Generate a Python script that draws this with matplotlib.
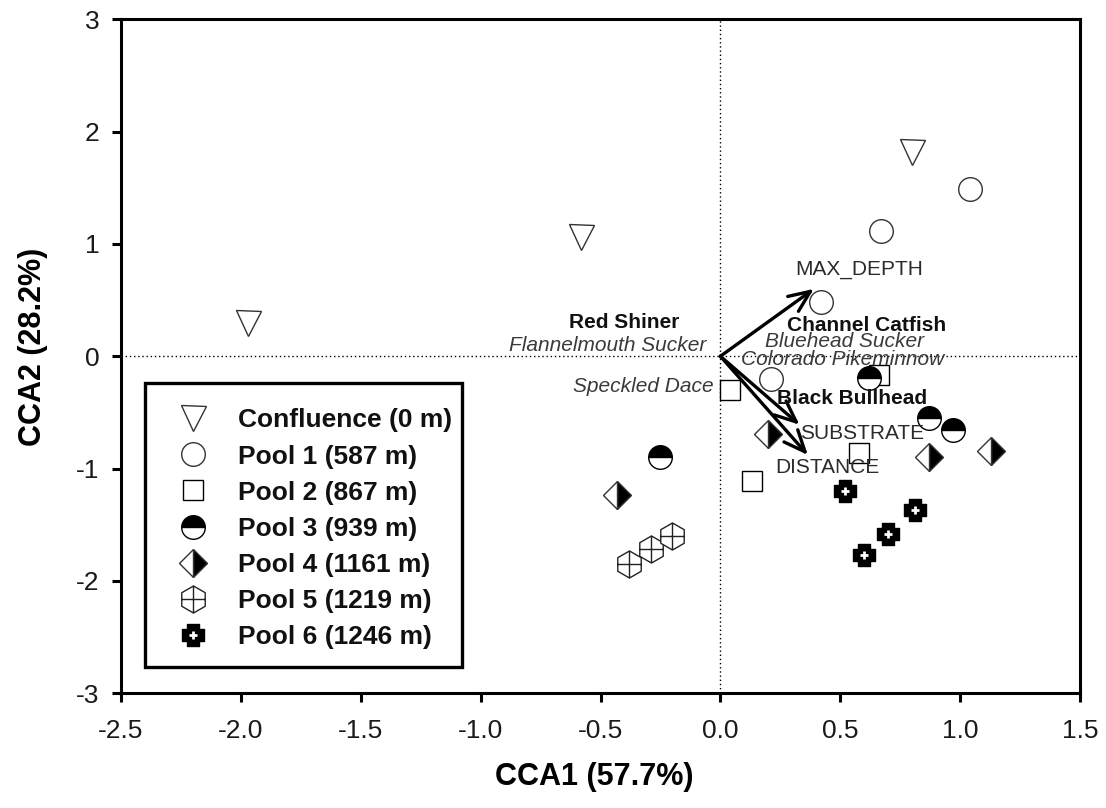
import numpy as np
import matplotlib
matplotlib.use("Agg")
from matplotlib import pyplot as plt
from matplotlib.path import Path
from matplotlib.patches import Rectangle
from matplotlib.legend_handler import HandlerTuple

plt.rcParams['font.family'] = ['Liberation Sans', 'DejaVu Sans']
plt.rcParams['axes.unicode_minus'] = False

# site scores
conf_x = [-1.97, -0.58, 0.80]
conf_y = [0.30, 1.06, 1.82]
pool1_x = [1.04, 0.67, 0.42, 0.21]
pool1_y = [1.49, 1.12, 0.48, -0.20]
pool2_x = [0.04, 0.66, 0.58, 0.13]
pool2_y = [-0.30, -0.17, -0.86, -1.11]
pool3_x = [0.62, 0.87, 0.97, -0.25]
pool3_y = [-0.19, -0.55, -0.66, -0.90]
pool4_x = [0.20, -0.43, 0.87, 1.13]
pool4_y = [-0.69, -1.24, -0.90, -0.84]
pool5_x = [-0.38, -0.29, -0.20]
pool5_y = [-1.85, -1.72, -1.60]
pool6_x = [0.52, 0.81, 0.70, 0.60]
pool6_y = [-1.20, -1.37, -1.58, -1.77]

legend_labels = ["Confluence (0 m)", "Pool 1 (587 m)", "Pool 2 (867 m)", "Pool 3 (939 m)",
                 "Pool 4 (1161 m)", "Pool 5 (1219 m)", "Pool 6 (1246 m)"]

# environmental vectors
env_names = ["MAX_DEPTH", "SUBSTRATE", "DISTANCE"]
env_x = [0.39, 0.33, 0.365]
env_y = [0.60, -0.61, -0.88]
env_lab_x = [0.58, 0.59, 0.445]
env_lab_y = [0.77, -0.69, -0.99]

# species labels
sp_names = ["Red Shiner", "Flannelmouth Sucker", "Speckled Dace", "Channel Catfish",
            "Bluehead Sucker", "Colorado Pikeminnow", "Black Bullhead"]
sp_x = [-0.40, -0.06, -0.03, 0.61, 0.52, 0.51, 0.55]
sp_y = [0.30, 0.10, -0.27, 0.27, 0.13, -0.03, -0.38]
sp_bold = [True, False, False, True, False, False, True]
sp_ha = ["center", "right", "right", "center", "center", "center", "center"]

# custom markers
s = 0.866
hex_cross = Path(
    [(0, 1), (s, 0.5), (s, -0.5), (0, -1), (-s, -0.5), (-s, 0.5), (0, 1),
     (0, 1), (0, -1), (-s, 0), (s, 0)],
    [Path.MOVETO] + [Path.LINETO] * 5 + [Path.CLOSEPOLY,
     Path.MOVETO, Path.LINETO, Path.MOVETO, Path.LINETO])
a = 0.52
fat_plus = Path([(-a, -1), (a, -1), (a, -a), (1, -a), (1, a), (a, a), (a, 1), (-a, 1),
                 (-a, a), (-1, a), (-1, -a), (-a, -a), (-a, -1)],
                [Path.MOVETO] + [Path.LINETO] * 11 + [Path.CLOSEPOLY])

fig = plt.figure(figsize=(11.06, 8.08), dpi=100)
ax = fig.add_axes([0.1094, 0.1423, 0.8671, 0.8336])

ax.axhline(0, color="black", lw=1, ls=(0, (1, 2)), zorder=1)
ax.axvline(0, color="black", lw=1, ls=(0, (1, 2)), zorder=1)

ec = "#333333"
h0, = ax.plot(conf_x, conf_y, "v", ms=18, mfc="white", mec=ec, mew=1.0, ls="none", zorder=3)
h1, = ax.plot(pool1_x, pool1_y, "o", ms=17, mfc="white", mec=ec, mew=1.0, ls="none", zorder=3)
h2, = ax.plot(pool2_x, pool2_y, "s", ms=14.5, mfc="white", mec="black", mew=1.0, ls="none", zorder=3)
h3, = ax.plot(pool3_x, pool3_y, "o", ms=17, fillstyle="top", mfc="black", markerfacecoloralt="white",
              mec="black", mew=1.0, ls="none", zorder=3)
h4, = ax.plot(pool4_x, pool4_y, "D", ms=14.5, fillstyle="right", mfc="black", markerfacecoloralt="white",
              mec=ec, mew=1.0, ls="none", zorder=3)
h5, = ax.plot(pool5_x, pool5_y, marker=hex_cross, ms=19.5, mfc="white", mec="#222222", mew=1.0, ls="none", zorder=3)
h6a, = ax.plot(pool6_x, pool6_y, marker=fat_plus, ms=16, mfc="black", mec="black", mew=1.0, ls="none", zorder=3)
h6b, = ax.plot(pool6_x, pool6_y, "+", ms=6, mec="white", mew=2.0, ls="none", zorder=3)

for name, ex, ey, lx, ly in zip(env_names, env_x, env_y, env_lab_x, env_lab_y):
    ax.annotate("", xy=(ex, ey), xytext=(0, 0),
                arrowprops=dict(arrowstyle="->,head_length=0.7,head_width=0.3", lw=2.4, color="black",
                                shrinkA=0, shrinkB=0, mutation_scale=22), zorder=4)
    ax.text(lx, ly, name, fontsize=15, color="#2b2b2b", ha="center", va="center", zorder=5)

for name, x, y, b, ha in zip(sp_names, sp_x, sp_y, sp_bold, sp_ha):
    if b:
        ax.text(x, y, name, fontsize=15, fontweight="bold", color="#111111", ha=ha, va="center", zorder=5)
    else:
        ax.text(x, y, name, fontsize=15, fontstyle="italic", color="#3a3a3a", ha=ha, va="center", zorder=5)

ax.set_xlim(-2.5, 1.5)
ax.set_ylim(-3, 3)
ax.set_xticks(np.arange(-2.5, 1.51, 0.5))
ax.set_xticklabels(["%.1f" % v for v in np.arange(-2.5, 1.51, 0.5)])
ax.set_yticks(range(-3, 4))
ax.tick_params(axis="both", direction="out", length=6.5, width=2.2, labelsize=19, labelcolor="#1a1a1a")
ax.tick_params(axis="x", pad=12)
ax.tick_params(axis="y", pad=9)
for sp in ax.spines.values():
    sp.set_linewidth(2.2)
ax.set_xlabel("CCA1 (57.7%)", fontsize=22, fontweight="bold", labelpad=14)
ax.set_ylabel("CCA2 (28.2%)", fontsize=22, fontweight="bold", labelpad=20)
ax.xaxis.label.set_x(0.493)
ax.yaxis.label.set_y(0.514)

# legend frame drawn separately so the padding can match the original
ax.add_patch(Rectangle((0.025, 0.0386), 0.3306, 0.4217, transform=ax.transAxes,
                       facecolor="white", edgecolor="black", lw=2.4, zorder=6))
leg = ax.legend([h0, h1, h2, h3, h4, h5, (h6a, h6b)], legend_labels,
                handler_map={tuple: HandlerTuple(ndivide=1)},
                loc="upper left", bbox_to_anchor=(0.0476, 0.4226), frameon=False,
                numpoints=1, handlelength=2.0, handletextpad=0.7,
                labelspacing=0.46, borderpad=0, borderaxespad=0,
                prop={"size": 19, "weight": "bold"})
leg.set_zorder(7)
for t in leg.get_texts():
    t.set_color("#111111")

fig.savefig("out.png", dpi=100)
